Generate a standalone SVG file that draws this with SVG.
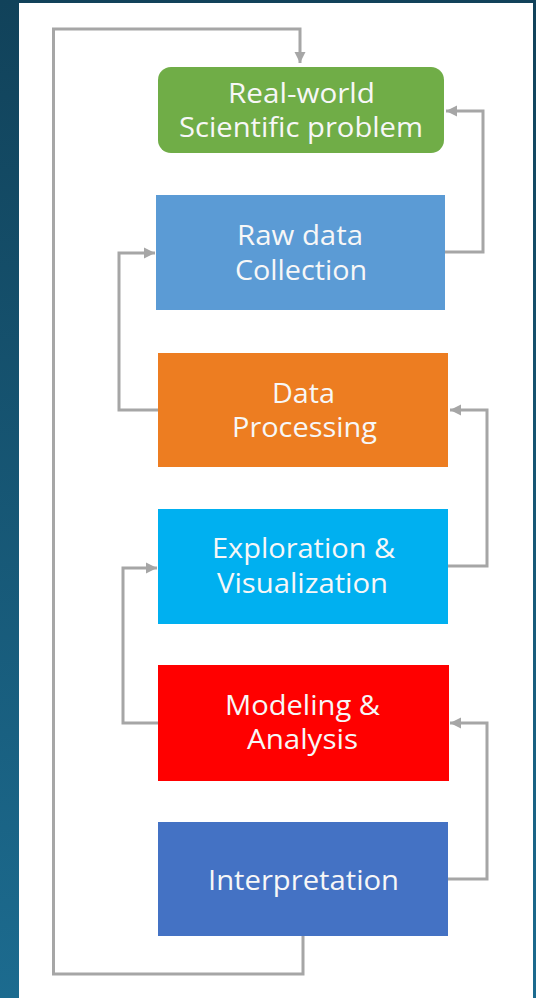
<svg xmlns="http://www.w3.org/2000/svg" width="536" height="998" viewBox="0 0 536 998">
  <defs>
    <linearGradient id="bg" x1="0" y1="0" x2="0" y2="1">
      <stop offset="0" stop-color="#11425a"/>
      <stop offset="1" stop-color="#1c6b8f"/>
    </linearGradient>
    <marker id="arr" markerUnits="userSpaceOnUse" markerWidth="12" markerHeight="12" viewBox="0 0 12 12" refX="11" refY="6" orient="auto">
      <path d="M0,0.5 L11,6 L0,11.5 Z" fill="#a6a6a6"/>
    </marker>
    <style>
      .box { stroke: none; }
      .lbl { font-family: "Open Sans", "Noto Sans", "Liberation Sans", sans-serif; font-size: 26.5px; fill: #f7f7f7; text-anchor: middle; }
      .conn { fill: none; stroke: #a6a6a6; stroke-width: 3; }
    </style>
  </defs>
  <rect x="0" y="0" width="536" height="998" fill="url(#bg)"/>
  <rect x="19" y="3" width="514" height="995" fill="#ffffff"/>

  <g id="connectors">
    <path class="conn" d="M303,936 V974 H53.5 V29 H300 V63" marker-end="url(#arr)"/>
    <path class="conn" d="M445,252 H483 V111 H446" marker-end="url(#arr)"/>
    <path class="conn" d="M158,410 H119 V253 H155" marker-end="url(#arr)"/>
    <path class="conn" d="M448,566 H487 V410 H450" marker-end="url(#arr)"/>
    <path class="conn" d="M158,723 H123 V568 H157" marker-end="url(#arr)"/>
    <path class="conn" d="M448,879 H487 V723 H450" marker-end="url(#arr)"/>
  </g>

  <g id="n1">
    <rect class="box" x="158" y="67" width="286" height="86" rx="13" fill="#70ad47"/>
    <text class="lbl" x="301.5" y="103" textLength="147" lengthAdjust="spacingAndGlyphs">Real-world</text>
    <text class="lbl" x="301" y="137" textLength="244" lengthAdjust="spacingAndGlyphs">Scientific problem</text>
  </g>
  <g id="n2">
    <rect class="box" x="156" y="195" width="289" height="115" fill="#5b9bd5"/>
    <text class="lbl" x="300" y="245" textLength="126" lengthAdjust="spacingAndGlyphs">Raw data</text>
    <text class="lbl" x="301" y="280" textLength="132" lengthAdjust="spacingAndGlyphs">Collection</text>
  </g>
  <g id="n3">
    <rect class="box" x="158" y="353" width="290" height="114" fill="#ed7d21"/>
    <text class="lbl" x="303.5" y="403" textLength="63" lengthAdjust="spacingAndGlyphs">Data</text>
    <text class="lbl" x="304.5" y="437" textLength="145" lengthAdjust="spacingAndGlyphs">Processing</text>
  </g>
  <g id="n4">
    <rect class="box" x="158" y="509" width="290" height="115" fill="#00b0f0"/>
    <text class="lbl" x="303.5" y="558" textLength="183" lengthAdjust="spacingAndGlyphs">Exploration &amp;</text>
    <text class="lbl" x="302.5" y="593" textLength="171" lengthAdjust="spacingAndGlyphs">Visualization</text>
  </g>
  <g id="n5">
    <rect class="box" x="158" y="665" width="291" height="116" fill="#ff0000"/>
    <text class="lbl" x="302.5" y="715" textLength="155" lengthAdjust="spacingAndGlyphs">Modeling &amp;</text>
    <text class="lbl" x="302.5" y="749" textLength="111" lengthAdjust="spacingAndGlyphs">Analysis</text>
  </g>
  <g id="n6">
    <rect class="box" x="158" y="822" width="290" height="114" fill="#4472c4"/>
    <text class="lbl" x="303.5" y="890" textLength="191" lengthAdjust="spacingAndGlyphs">Interpretation</text>
  </g>
</svg>
